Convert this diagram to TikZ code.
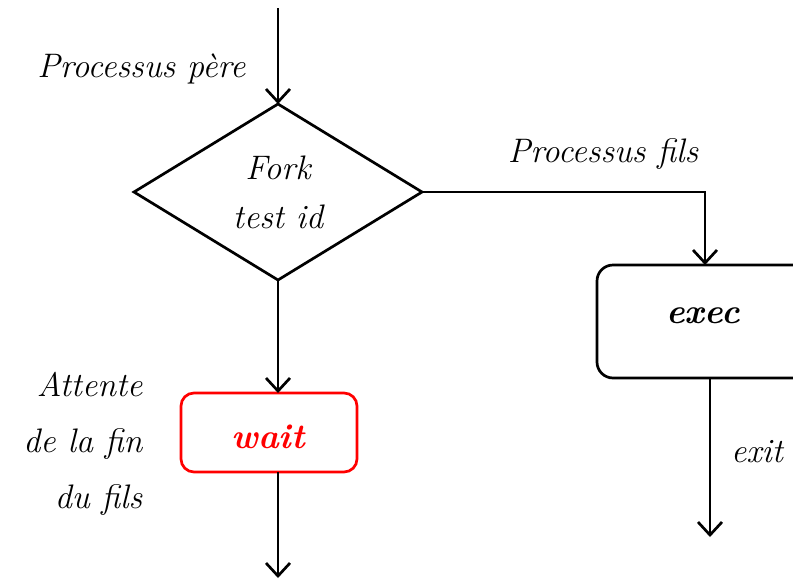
\documentclass[tikz,border=0pt]{standalone}
\usetikzlibrary{shapes.geometric,arrows.meta}
\begin{document}
\begin{tikzpicture}[x=1pt,y=-1pt,
  line width=2.7pt,
  txt/.style={font=\fontsize{34}{56}\selectfont\itshape},
  boldtxt/.style={font=\fontsize{35}{40}\selectfont\bfseries\itshape},
  flow/.style={-{Straight Barb[length=13pt,width=24pt]}},
  decision/.style={diamond,draw,outer sep=0pt,inner sep=0pt,
    minimum width=288pt,minimum height=176pt,align=center,
    font=\fontsize{34}{55}\selectfont\itshape},
  procbox/.style={rectangle,draw,rounded corners=16pt,outer sep=0pt},
]
\useasboundingbox (0,0) rectangle (793,582);
\begin{scope}
\clip (0,0) rectangle (793,582);

% fork decision
\coordinate (start) at (278,8);
\node[decision] (fork) at (278,192) {Fork\\[-6pt]test id};
\draw[flow] (start) -- (fork.north);
\node[txt,anchor=base east] (pere) at (250,77) {Processus père};

% child branch
\node[procbox,minimum width=216pt,minimum height=113pt] (exec) at (705,321.5) {};
\node[boldtxt,anchor=base] (exectxt) at (703,323) {exec};
\draw[flow] (fork.east) -| (exec.north);
\node[txt,anchor=base] (fils) at (603,162) {Processus fils};
\coordinate (exitend) at (710,537);
\draw[flow] (exec.south -| exitend) -- (exitend);
\node[txt,anchor=base] (exit) at (757,462) {exit};

% parent branch
\node[procbox,draw=red,rounded corners=13pt,minimum width=176pt,minimum height=79pt] (wait) at (269,432.5) {};
\node[boldtxt,text=red,anchor=base] (waittxt) at (268,448) {wait};
\draw[flow] (fork.south) -- (fork.south |- wait.north);
\coordinate (end) at (278,578);
\draw[flow] (wait.south -| end) -- (end);
\node[txt,align=right,anchor=east] (attente) at (147,444) {Attente\\de la fin\\du fils};
\end{scope}
\end{tikzpicture}
\end{document}
